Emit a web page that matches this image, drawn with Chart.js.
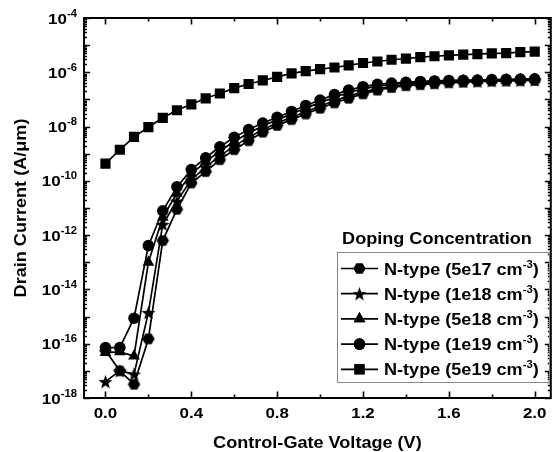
<!DOCTYPE html>
<html>
<head>
<meta charset="utf-8">
<title>Drain Current vs Control-Gate Voltage</title>
<script src="https://cdn.jsdelivr.net/npm/chart.js@4.4.1/dist/chart.umd.min.js"></script>
<style>
  html, body { margin: 0; padding: 0; background: #fff; }
  #chart { display: block; }
</style>
</head>
<body>
<canvas id="chart" width="558" height="452"></canvas>
<script>
// Control-gate voltage (V)
const voltages = [0.0, 0.067, 0.133, 0.2, 0.267, 0.333, 0.4, 0.467, 0.533, 0.6, 0.667, 0.733, 0.8, 0.867, 0.933, 1.0,
                  1.067, 1.133, 1.2, 1.267, 1.333, 1.4, 1.467, 1.533, 1.6, 1.667, 1.733, 1.8, 1.867, 1.933, 2.0];

// Drain current (A/um)
const current5e17 = [5.6e-17, 1.0e-17, 3.2e-18, 1.5e-16, 6.3e-13, 8.9e-12, 8.3e-11, 2.2e-10, 6.0e-10, 1.4e-9, 3.0e-9,
                     6.2e-9, 1.1e-8, 1.8e-8, 2.9e-8, 4.7e-8, 7.4e-8, 1.1e-7, 1.6e-7, 2.2e-7, 2.75e-7, 3.2e-7, 3.5e-7,
                     3.8e-7, 4.1e-7, 4.3e-7, 4.5e-7, 4.7e-7, 4.8e-7, 4.9e-7, 5.0e-7];
const current1e18 = [4.0e-18, 1.0e-17, 7.6e-18, 1.4e-15, 2.5e-12, 1.8e-11, 1.1e-10, 3.2e-10, 8.3e-10, 1.9e-9, 4.0e-9,
                     7.6e-9, 1.35e-8, 2.2e-8, 3.5e-8, 5.6e-8, 8.9e-8, 1.35e-7, 1.85e-7, 2.5e-7, 3.0e-7, 3.5e-7, 3.8e-7,
                     4.1e-7, 4.4e-7, 4.6e-7, 4.7e-7, 4.9e-7, 5.0e-7, 5.1e-7, 5.2e-7];
const current5e18 = [4.7e-17, 5.0e-17, 3.5e-17, 1.0e-13, 4.5e-12, 3.5e-11, 1.8e-10, 5.0e-10, 1.26e-9, 2.8e-9, 5.75e-9,
                     1.05e-8, 1.8e-8, 2.9e-8, 4.8e-8, 7.6e-8, 1.2e-7, 1.8e-7, 2.45e-7, 3.1e-7, 3.55e-7, 3.9e-7, 4.2e-7,
                     4.5e-7, 4.7e-7, 4.9e-7, 5.0e-7, 5.1e-7, 5.2e-7, 5.4e-7, 5.5e-7];
const current1e19 = [7.2e-17, 7.2e-17, 8.7e-16, 4.1e-13, 7.9e-12, 6.0e-11, 2.6e-10, 7.1e-10, 1.8e-9, 4.0e-9, 7.8e-9,
                     1.35e-8, 2.2e-8, 3.6e-8, 6.0e-8, 9.5e-8, 1.5e-7, 2.2e-7, 2.95e-7, 3.6e-7, 4.0e-7, 4.3e-7, 4.6e-7,
                     4.8e-7, 5.0e-7, 5.1e-7, 5.2e-7, 5.4e-7, 5.5e-7, 5.6e-7, 5.75e-7];
const current5e19 = [4.3e-10, 1.4e-9, 4.2e-9, 9.5e-9, 2.1e-8, 4.0e-8, 6.6e-8, 1.1e-7, 1.65e-7, 2.6e-7, 3.7e-7,
                     5.0e-7, 6.8e-7, 9.1e-7, 1.1e-6, 1.3e-6, 1.5e-6, 1.8e-6, 2.2e-6, 2.5e-6, 2.9e-6, 3.2e-6, 3.6e-6,
                     3.9e-6, 4.2e-6, 4.5e-6, 4.7e-6, 5.0e-6, 5.1e-6, 5.5e-6, 5.75e-6];

const concentrations = ['5e17', '1e18', '5e18', '1e19', '5e19'];

// axis ticks
const xMajorTicks = [0.0, 0.4, 0.8, 1.2, 1.6, 2.0];
const xTickLabels = ['0.0', '0.4', '0.8', '1.2', '1.6', '2.0'];
const xMinorTicks = [0.2, 0.6, 1.0, 1.4, 1.8];
const yLabelExponents = [-4, -6, -8, -10, -12, -14, -16, -18];
const yDecades = [-18, -17, -16, -15, -14, -13, -12, -11, -10, -9, -8, -7, -6, -5, -4];

const FONT = '"Liberation Sans", Arial, Helvetica, sans-serif';
const STRETCH = 1.13;

// filled marker shapes that chart.js has no built-in for
function makeMarker(size, drawPath) {
    const c = document.createElement('canvas');
    c.width = size;
    c.height = size;
    const g = c.getContext('2d');
    g.fillStyle = '#000';
    g.beginPath();
    drawPath(g, size / 2);
    g.closePath();
    g.fill();
    return c;
}

const starMarker = makeMarker(17, function(g, m) {
    for (let i = 0; i < 10; i++) {
        const r = i % 2 === 0 ? 7.4 : 3.0;
        const a = -Math.PI / 2 + i * Math.PI / 5;
        g.lineTo(m + r * Math.cos(a), m + 0.7 + r * Math.sin(a));
    }
});

const hexMarker = makeMarker(15, function(g, m) {
    for (let i = 0; i < 6; i++) {
        const a = i * Math.PI / 3;
        g.lineTo(m + 6.2 * Math.cos(a), m + 6.2 * Math.sin(a));
    }
});

function series(values) {
    return values.map((v, i) => ({ x: voltages[i], y: v }));
}

const markerStyles = [hexMarker, starMarker, 'triangle', 'circle', 'rect'];
const markerRadius = [6, 7, 6.8, 5.8, 7.2];
const allCurrents = [current5e17, current1e18, current5e18, current1e19, current5e19];

const datasets = allCurrents.map(function(values, k) {
    return {
        label: 'N-type (' + concentrations[k] + ' cm-3)',
        data: series(values),
        borderColor: '#000',
        borderWidth: 1.7,
        backgroundColor: '#000',
        pointBackgroundColor: '#000',
        pointBorderColor: '#000',
        pointBorderWidth: 0,
        pointStyle: markerStyles[k],
        pointRadius: markerRadius[k],
        tension: 0
    };
});

// text with the slightly wide look of the original figure
function wideText(ctx, text, x, y, size, align) {
    ctx.save();
    ctx.font = 'bold ' + size + 'px ' + FONT;
    ctx.translate(x, y);
    ctx.scale(STRETCH, 1);
    ctx.textAlign = align || 'left';
    ctx.textBaseline = 'alphabetic';
    ctx.fillText(text, 0, 0);
    ctx.restore();
}

function textWidth(ctx, text, size) {
    ctx.save();
    ctx.font = 'bold ' + size + 'px ' + FONT;
    const w = ctx.measureText(text).width * STRETCH;
    ctx.restore();
    return w;
}

const framePlugin = {
    id: 'frame',
    afterDatasetsDraw(chart) {
        const ctx = chart.ctx;
        const area = chart.chartArea;
        const xs = chart.scales.x;
        const ys = chart.scales.y;
        ctx.save();
        ctx.fillStyle = '#000';
        ctx.strokeStyle = '#000';

        // box
        ctx.lineWidth = 2;
        ctx.strokeRect(area.left, area.top, area.right - area.left, area.bottom - area.top);

        // inward ticks
        ctx.lineWidth = 1.6;
        ctx.beginPath();
        function xTick(v, len) {
            const px = Math.round(xs.getPixelForValue(v)) + 0.5;
            ctx.moveTo(px, area.bottom); ctx.lineTo(px, area.bottom - len);
            ctx.moveTo(px, area.top); ctx.lineTo(px, area.top + len);
        }
        function yTick(v, len) {
            const py = Math.round(ys.getPixelForValue(v)) + 0.5;
            ctx.moveTo(area.left, py); ctx.lineTo(area.left + len, py);
            ctx.moveTo(area.right, py); ctx.lineTo(area.right - len, py);
        }
        xMajorTicks.forEach(v => xTick(v, 6.5));
        xMinorTicks.forEach(v => xTick(v, 3.5));
        yDecades.forEach(function(d) {
            yTick(Math.pow(10, d), 6);
            if (d < -4) {
                for (let m = 2; m <= 9; m++) yTick(m * Math.pow(10, d), 3);
            }
        });
        ctx.stroke();

        // x tick labels
        xMajorTicks.forEach(function(v, i) {
            wideText(ctx, xTickLabels[i], xs.getPixelForValue(v), 418, 15, 'center');
        });

        // y tick labels: 10 with a raised exponent
        yLabelExponents.forEach(function(e) {
            const py = ys.getPixelForValue(Math.pow(10, e));
            const expText = String(e);
            const expW = textWidth(ctx, expText, 10);
            const right = 77;
            wideText(ctx, '10', right - expW, py + 5.5, 15, 'right');
            wideText(ctx, expText, right - expW, py - 1.5, 10, 'left');
        });

        // axis titles
        wideText(ctx, 'Control-Gate Voltage (V)', (area.left + area.right) / 2, 448, 16, 'center');
        ctx.save();
        ctx.translate(26, (area.top + area.bottom) / 2);
        ctx.rotate(-Math.PI / 2);
        wideText(ctx, 'Drain Current (A/\u03bcm)', 0, 0, 16, 'center');
        ctx.restore();

        // legend
        ctx.strokeStyle = '#888';
        ctx.lineWidth = 1;
        ctx.strokeRect(337.5, 252.5, 212, 130);
        wideText(ctx, 'Doping Concentration', 437, 244, 16, 'center');
        chart.data.datasets.forEach(function(ds, k) {
            const cy = 268.5 + k * 25.2;
            ctx.strokeStyle = '#000';
            ctx.lineWidth = 1.7;
            ctx.beginPath();
            ctx.moveTo(341, cy); ctx.lineTo(378, cy);
            ctx.stroke();
            Chart.helpers.drawPoint(ctx, {
                pointStyle: ds.pointStyle, radius: ds.pointRadius, borderWidth: 0, rotation: 0
            }, 359.5, cy);
            ctx.fill();
            const main = 'N-type (' + concentrations[k] + ' cm';
            let x = 384;
            wideText(ctx, main, x, cy + 6, 16, 'left');
            x += textWidth(ctx, main, 16);
            wideText(ctx, '-3', x, cy - 1, 10, 'left');
            x += textWidth(ctx, '-3', 10);
            wideText(ctx, ')', x, cy + 6, 16, 'left');
        });
        ctx.restore();
    }
};

new Chart(document.getElementById('chart'), {
    type: 'line',
    data: { datasets: datasets },
    options: {
        responsive: false,
        animation: false,
        layout: { padding: { left: 84, top: 18, right: 3, bottom: 54 } },
        scales: {
            x: { type: 'linear', min: -0.1, max: 2.075, display: false },
            y: { type: 'logarithmic', min: 1e-18, max: 1e-4, display: false }
        },
        plugins: {
            legend: { display: false },
            tooltip: { enabled: false }
        }
    },
    plugins: [framePlugin]
});
</script>
</body>
</html>
